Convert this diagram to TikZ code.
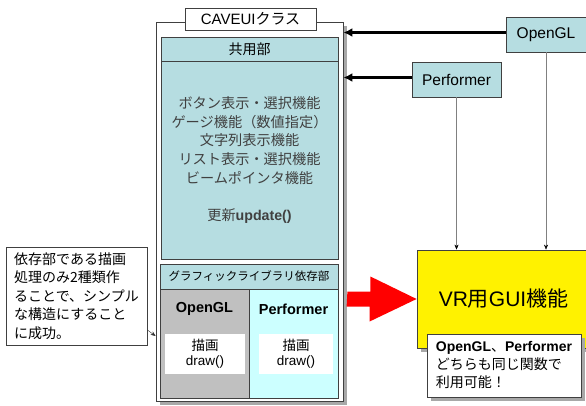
\documentclass[tikz,border=0pt]{standalone}
\usepackage{fontspec}
\setmainfont{Liberation Sans}
\newfontfamily\jp{Noto Sans CJK JP}
\usetikzlibrary{arrows.meta,shadows}
\definecolor{sharecol}{HTML}{B6DDE1}
\definecolor{glgray}{HTML}{C0C0C0}
\definecolor{pfcyan}{HTML}{CCFFFF}
\definecolor{shadowgray}{HTML}{A8A8A8}
\definecolor{listtext}{HTML}{404040}
\definecolor{wire}{HTML}{808080}
\tikzset{
  part/.style={draw=black!75, line width=0.8pt, inner sep=2pt},
  withshadow/.style={drop shadow={shadow xshift=4pt, shadow yshift=-4pt, fill=shadowgray, opacity=1}},
  feed/.style={line width=2.4pt, -{Latex[length=9pt,width=9pt]}},
}

\begin{document}
\begin{tikzpicture}[x=1pt,y=-1pt]
  \useasboundingbox (0,0) rectangle (586,405);
  % CAVEUI class frame
  \node[part, withshadow, fill=white, minimum width=187pt, minimum height=379pt] (cls) at (249.5,211.5) {};
  \node[part, fill=white, minimum width=131pt, minimum height=22pt, font=\fontsize{15}{18}\selectfont] (title) at (250.5,19) {CAVEUI{\jp クラス}};
  \node[part, fill=sharecol, minimum width=177pt, minimum height=24pt, font=\jp\fontsize{14}{17}\selectfont] (share) at (249.5,49) {共用部};
  \node[part, fill=sharecol, minimum width=177pt, minimum height=198pt, text=listtext, align=center, font=\jp\fontsize{14.2}{18.75}\selectfont] (sharebody) at (249.5,160) {ボタン表示・選択機能\\ゲージ機能（数値指定）\\文字列表示機能\\リスト表示・選択機能\\ビームポインタ機能\\[18.75pt]更新{\normalfont\bfseries update()}};
  \node[part, fill=sharecol, minimum width=178pt, minimum height=25pt, font=\jp\fontsize{11.5}{14}\selectfont] (gfx) at (249,276.5) {グラフィックライブラリ依存部};
  \node[part, fill=glgray, minimum width=89pt, minimum height=109pt, anchor=north] (glcol) at (204.5,289) {};
  \node[part, fill=pfcyan, minimum width=89pt, minimum height=109pt, anchor=north] (pfcol) at (293.5,289) {};
  \node[font=\bfseries\fontsize{14.5}{17}\selectfont] (gllabel) at (204.5,309) {OpenGL};
  \node[font=\bfseries\fontsize{14.5}{17}\selectfont] (pflabel) at (293.5,309) {Performer};
  \node[fill=white, minimum width=80pt, minimum height=40pt, align=center, font=\fontsize{13.5}{15}\selectfont] (gldraw) at (205,354) {{\jp 描画}\\draw()};
  \node[fill=white, minimum width=74pt, minimum height=40pt, align=center, font=\fontsize{13.5}{15}\selectfont] (pfdraw) at (296,354) {{\jp 描画}\\draw()};
  % Note on the left
  \node[part, fill=white, minimum width=141pt, minimum height=98pt, align=left, font=\jp\fontsize{14}{18.5}\selectfont] (note) at (76.5,296) {依存部である描画\\処理のみ2種類作\\ることで、シンプル\\な構造にすること\\に成功。};
  \coordinate (glhit) at (cls.west |- 0,336);
  \draw[black!80, -{Stealth[length=5pt,width=4pt]}] ([yshift=-34pt]note.east) -- (glhit);
  % Libraries
  \node[part, fill=sharecol, minimum width=80pt, minimum height=35pt, font=\fontsize{15.5}{18}\selectfont] (ogl) at (546,34.5) {OpenGL};
  \node[part, fill=sharecol, minimum width=89pt, minimum height=35pt, font=\fontsize{15.5}{18}\selectfont] (pfm) at (456.5,79.5) {Performer};
  \draw[feed] ([yshift=2pt]ogl.west) -- ([yshift=2pt]cls.east |- ogl.west);
  \draw[feed] ([yshift=2pt]pfm.west) -- ([yshift=2pt]cls.east |- pfm.west);
  % VR GUI
  \node[part, withshadow, fill=yellow, minimum width=173pt, minimum height=98pt, font=\fontsize{21}{24}\selectfont] (vr) at (503.5,299) {VR{\jp 用}GUI{\jp 機能}};
  \draw[wire, -{Stealth[length=5pt,width=4pt,color=black]}] (ogl.south) -- (ogl.south |- vr.north);
  \draw[wire, -{Stealth[length=5pt,width=4pt,color=black]}] (pfm.south) -- (pfm.south |- vr.north);
  \fill[red] ([xshift=4pt]cls.east |- vr.west) ++(0,-7.5) -- ++(23,0) -- ++(0,-15) -- (vr.west) -- ++(-47,22.5) -- ++(0,-15) -- ++(-23,0) -- cycle;
  \node[part, withshadow, fill=white, minimum width=154pt, minimum height=63pt, align=left, font=\jp\fontsize{14}{18}\selectfont] (vrnote) at (504,365.5) {{\normalfont\bfseries OpenGL}、{\normalfont\bfseries Performer}\\どちらも同じ関数で\\利用可能！};
\end{tikzpicture}
\end{document}
